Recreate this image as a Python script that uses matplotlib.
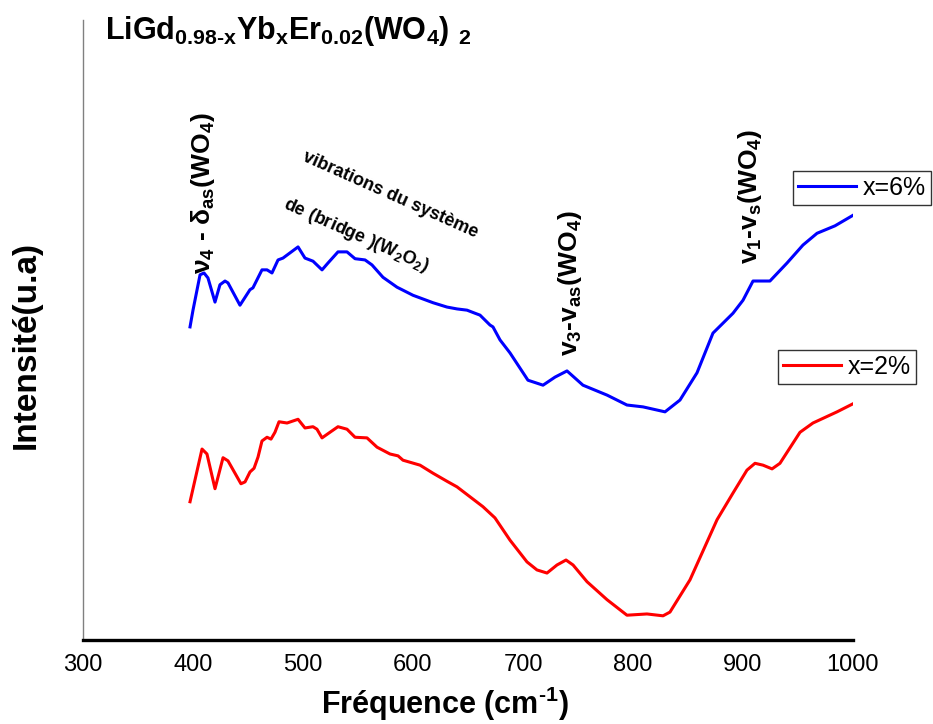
import matplotlib
matplotlib.use("Agg")
import matplotlib.pyplot as plt
from matplotlib.lines import Line2D

plt.rcParams['font.family'] = ['Liberation Sans', 'DejaVu Sans']
plt.rcParams['mathtext.fontset'] = 'custom'
plt.rcParams['mathtext.rm'] = 'Liberation Sans:bold'
plt.rcParams['mathtext.bf'] = 'Liberation Sans:bold'
plt.rcParams['mathtext.it'] = 'Liberation Sans:bold'
plt.rcParams['mathtext.default'] = 'bf'

# wavenumber (cm-1) and intensity (arbitrary units)
x_6 = [397.3, 400, 406.4, 410, 413.6, 420, 424.5, 429.1, 431.8, 442.7, 451.8, 454.5,
       462.7, 467.3, 471.8, 477.3, 481.8, 495.5, 501.8, 509.1, 517.3, 522.7, 531.8,
       540, 547.3, 556.4, 562.7, 572.7, 585.5, 590, 600, 618.2, 630.9, 640, 649.1,
       656.4, 660.9, 670, 672.7, 679.1, 688.2, 704.5, 718.2, 729.1, 740, 754.5,
       776.4, 794.5, 809.1, 829.1, 842.7, 858.2, 872.7, 890.9, 900, 909.1, 924.5,
       940, 954.5, 967.3, 983.6, 1000]
y_6 = [50.5, 53.2, 58.9, 59.2, 58.4, 54.5, 57.3, 57.9, 57.6, 54.0, 56.5, 56.8,
       59.7, 59.7, 59.2, 61.3, 61.6, 63.4, 61.6, 61.1, 59.7, 60.8, 62.6,
       62.6, 61.5, 61.3, 60.5, 58.5, 56.9, 56.5, 55.6, 54.4, 53.7, 53.4, 53.2,
       52.7, 52.4, 50.8, 50.5, 48.4, 46.3, 41.9, 41.1, 42.4, 43.4, 41.1,
       39.5, 37.9, 37.6, 36.8, 38.7, 43.1, 49.5, 52.7, 54.8, 57.9, 57.9,
       60.8, 63.7, 65.6, 66.8, 68.5]

x_2 = [397.3, 408.2, 412.7, 420, 427.3, 431.8, 443.6, 447.3, 451.8, 455.5, 459.1,
       462.7, 467.3, 470.9, 474.5, 478.2, 485.5, 495.5, 501.8, 509.1, 512.7, 517.3,
       524.5, 531.8, 540, 547.3, 558.2, 567.3, 579.1, 586.4, 590.9, 606.4, 618.2,
       630.9, 640, 651.8, 663.6, 674.5, 688.2, 703.6, 712.7, 721.8, 730.9, 739.1,
       745.5, 758.2, 776.4, 794.5, 812.7, 827.3, 833.6, 851.8, 876.4, 890.9, 903.6,
       910.9, 918.2, 926.4, 933.6, 951.8, 963.6, 985.5, 1000]
y_2 = [22.3, 30.8, 30.0, 24.4, 29.4, 28.9, 25.2, 25.5, 27.1, 27.7, 29.5,
       32.1, 32.7, 32.4, 33.5, 35.2, 35.0, 35.6, 34.2, 34.4, 34.0, 32.6,
       33.5, 34.4, 34.0, 32.7, 32.6, 31.1, 30.0, 29.7, 29.0, 28.2, 26.9,
       25.6, 24.7, 23.1, 21.5, 19.7, 16.1, 12.6, 11.3, 10.8, 12.1, 12.9,
       12.1, 9.4, 6.5, 4.0, 4.2, 3.9, 4.5, 9.7, 19.4, 23.7, 27.4,
       28.5, 28.2, 27.6, 28.5, 33.5, 35.0, 36.8, 38.1]

xticks = [300, 400, 500, 600, 700, 800, 900, 1000]

fig = plt.figure(figsize=(9.33, 7.24), dpi=100)
ax = fig.add_axes([83/933, 84/724, 770/933, 620/724])

line6, = ax.plot(x_6, y_6, color='#0000ff', lw=2.2, solid_joinstyle='round')
line2, = ax.plot(x_2, y_2, color='#ff0000', lw=2.2, solid_joinstyle='round')

ax.set_xlim(300, 1000)
ax.set_ylim(0, 100)
ax.set_xticks(xticks)
ax.set_yticks([])
ax.tick_params(axis='x', length=0, pad=10, labelsize=17)

for s in ['top', 'right']:
    ax.spines[s].set_visible(False)
ax.spines['left'].set_color('#808080')
ax.spines['left'].set_linewidth(1.0)
ax.spines['bottom'].set_color('black')
ax.spines['bottom'].set_linewidth(2.4)

ax.set_xlabel('Fréquence (cm$^{\u20101}$)', fontsize=22, fontweight='bold')
ax.xaxis.set_label_coords(0.47, -0.072)
ax.set_ylabel('Intensité(u.a)', fontsize=24, fontweight='bold')
ax.yaxis.set_label_coords(-0.053, 0.476)

fig.text(105/933, 1 - 31/724,
         'LiGd$_{0.98\u2010x}$Yb$_x$Er$_{0.02}$(WO$_4$)$\\ _2$',
         fontsize=22, fontweight='bold', va='center', ha='left')

# band assignments
ax.text(409, 72.0, r'ν$_4$ - δ$_{as}$(WO$_4$)', rotation=90, fontsize=19,
        fontweight='bold', ha='center', va='center')
ax.text(579, 71.8, 'vibrations du système', rotation=-24, fontsize=13,
        fontweight='bold', ha='center', va='center')
ax.text(548, 65.3, r'de (bridge )(W$_2$O$_2$)', rotation=-24, fontsize=13,
        fontweight='bold', ha='center', va='center')
ax.text(742.7, 57.6, r'v$_3$-v$_{as}$(WO$_4$)', rotation=90, fontsize=19,
        fontweight='bold', ha='center', va='center')
ax.text(906, 71.5, r'v$_1$-v$_s$(WO$_4$)', rotation=90, fontsize=19,
        fontweight='bold', ha='center', va='center')

leg_kw = dict(loc='upper left', bbox_transform=fig.transFigure, fontsize=18,
              frameon=True, fancybox=False, borderaxespad=0, borderpad=0.2,
              handlelength=2.3, handletextpad=0.3, framealpha=1)
leg6 = ax.legend(handles=[Line2D([], [], color='#0000ff', lw=2.2)], labels=['x=6%'],
                 bbox_to_anchor=(793/933, 1 - 171/724), **leg_kw)
leg6.get_frame().set_edgecolor('#333333')
leg6.get_frame().set_linewidth(1.0)
ax.add_artist(leg6)
leg2 = ax.legend(handles=[Line2D([], [], color='#ff0000', lw=2.2)], labels=['x=2%'],
                 bbox_to_anchor=(778/933, 1 - 350/724), **leg_kw)
leg2.get_frame().set_edgecolor('#333333')
leg2.get_frame().set_linewidth(1.0)

fig.savefig('out.png', dpi=100)
